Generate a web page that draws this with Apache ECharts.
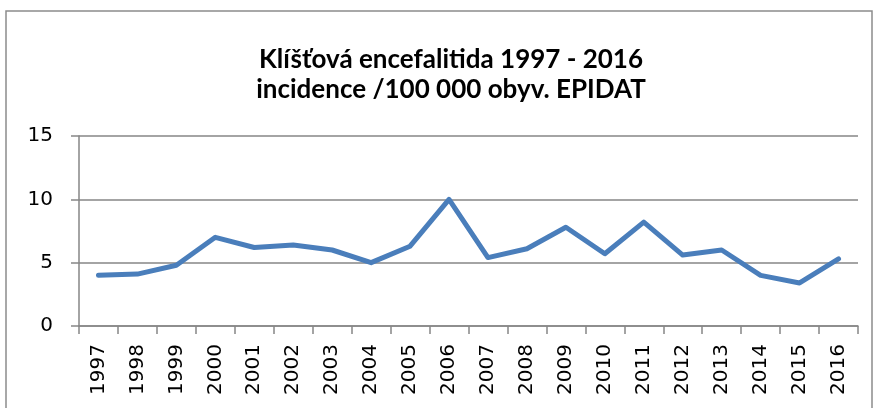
<!DOCTYPE html>
<html>
<head>
<meta charset="utf-8">
<script src="https://cdn.jsdelivr.net/npm/echarts@6/dist/echarts.min.js"></script>
<style>
  html, body { margin: 0; padding: 0; background: #fff; }
  #chart { width: 878px; height: 408px; }
</style>
</head>
<body>
<div id="chart"></div>
<script>
// data
const years = ["1997", "1998", "1999", "2000", "2001", "2002", "2003", "2004", "2005", "2006",
  "2007", "2008", "2009", "2010", "2011", "2012", "2013", "2014", "2015", "2016"];
const incidence = [4.0, 4.1, 4.8, 7.0, 6.2, 6.4, 6.0, 5.0, 6.3, 10.0,
  5.4, 6.1, 7.8, 5.7, 8.2, 5.6, 6.0, 4.0, 3.4, 5.3];
const titleLines = ["Klíšťová encefalitida 1997 - 2016", "incidence /100 000 obyv. EPIDAT"];

const gray = "#868686";
const chart = echarts.init(document.getElementById("chart"));

chart.setOption({
  animation: false,
  backgroundColor: "#fff",
  graphic: [
    {
      // outer chart frame
      type: "rect",
      shape: { x: 6, y: 11, width: 866, height: 420 },
      style: { fill: "none", stroke: "#8c8c8c", lineWidth: 1.5 },
      silent: true
    }
  ],
  title: {
    text: titleLines.join("\n"),
    left: 446,
    textAlign: "center",
    top: 40,
    textStyle: {
      fontFamily: "Lato",
      fontWeight: "bold",
      fontSize: 26,
      lineHeight: 30,
      color: "#000"
    }
  },
  grid: { left: 79, right: 20, top: 136, bottom: 82 },
  xAxis: {
    type: "category",
    data: years,
    boundaryGap: true,
    axisLine: { lineStyle: { color: gray, width: 1.5 } },
    axisTick: { show: true, length: 8, lineStyle: { color: gray, width: 1.5 } },
    axisLabel: {
      rotate: 90,
      margin: 18,
      interval: 0,
      fontFamily: "DejaVu Sans",
      fontSize: 20,
      color: "#000"
    }
  },
  yAxis: {
    type: "value",
    min: 0,
    max: 15,
    interval: 5,
    axisLine: { show: true, lineStyle: { color: gray, width: 1.5 } },
    axisTick: { show: true, length: 8, lineStyle: { color: gray, width: 1.5 } },
    splitLine: { lineStyle: { color: gray, width: 1.5 } },
    axisLabel: {
      margin: 26,
      fontFamily: "DejaVu Sans",
      fontSize: 20,
      color: "#000"
    }
  },
  series: [
    {
      type: "line",
      data: incidence,
      symbol: "none",
      lineStyle: { color: "#4a7ebb", width: 5, cap: "round", join: "round" }
    }
  ]
});
</script>
</body>
</html>
